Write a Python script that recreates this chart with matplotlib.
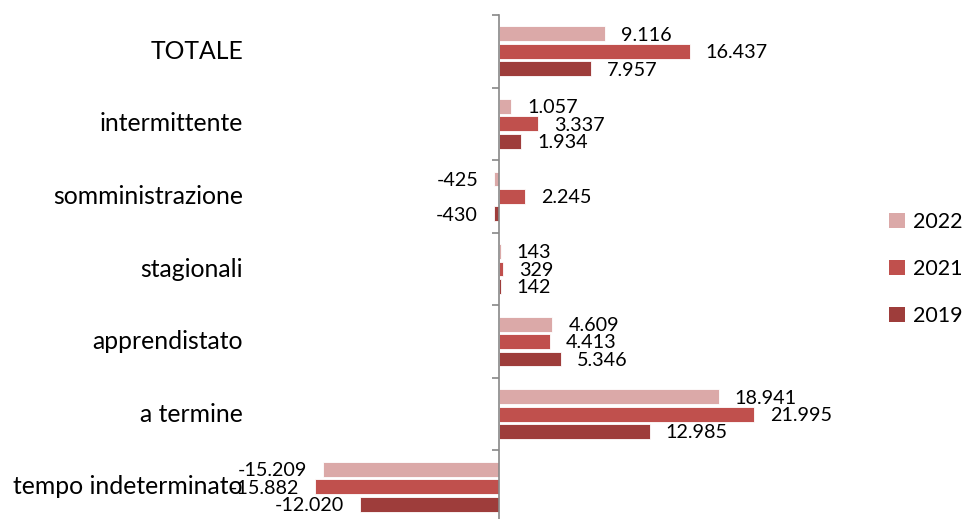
import matplotlib
matplotlib.use("Agg")
import matplotlib.pyplot as plt
import numpy as np
from matplotlib.patches import Patch

plt.rcParams['font.family'] = ['Lato', 'DejaVu Sans']

categories = ["TOTALE", "intermittente", "somministrazione", "stagionali",
              "apprendistato", "a termine", "tempo indeterminato"]
years = ["2022", "2021", "2019"]
v2022 = [9116, 1057, -425, 143, 4609, 18941, -15209]
v2021 = [16437, 3337, 2245, 329, 4413, 21995, -15882]
v2019 = [7957, 1934, -430, 142, 5346, 12985, -12020]
colors = ["#DBA9A8", "#C0504D", "#9E3D3B"]

W, H = 966, 519
fig = plt.figure(figsize=(W / 100, H / 100), dpi=100)

# axes in pixel terms: x 260..860, y 15..523 (bottom runs a bit off the figure)
L, R, T, B = 260, 860, 15, 523
ax = fig.add_axes([L / W, 1 - B / H, (R - L) / W, (B - T) / H])
scale = 255 / 21995  # px per unit
zero_px = 499
ax.set_xlim((L - zero_px) / scale, (R - zero_px) / scale)
ax.set_ylim(len(categories) - 0.5, -0.5)

bar_h = 0.205
off = 0.24
y = np.arange(len(categories))
for k, (vals, col) in enumerate(zip([v2022, v2021, v2019], colors)):
    ys = y + (k - 1) * off
    ax.barh(ys, vals, height=bar_h, color=col, edgecolor="white", linewidth=0.6)
    for yy, v in zip(ys, vals):
        txt = f"{v:,}".replace(",", ".")
        if v >= 0:
            ax.annotate(txt, (v, yy), xytext=(11.5, -1), textcoords="offset points",
                        ha="left", va="center", fontsize=14.2, color="black")
        else:
            ax.annotate(txt, (v, yy), xytext=(-11.5, -1), textcoords="offset points",
                        ha="right", va="center", fontsize=14.2, color="black")

# category labels
trans = matplotlib.transforms.blended_transform_factory(fig.transFigure, ax.transData)
for yy, c in zip(y, categories):
    ax.text(243 / W, yy, c, transform=trans, ha="right", va="center", fontsize=17.8)

for s in ["top", "right", "bottom"]:
    ax.spines[s].set_visible(False)
ax.spines["left"].set_position(("data", 0))
ax.spines["left"].set_color("#888888")
ax.spines["left"].set_linewidth(1.2)
ax.set_xticks([])
ax.set_yticks(np.arange(len(categories) + 1) - 0.5)
ax.set_yticklabels([])
ax.tick_params(axis="y", direction="out", length=5, color="#888888", width=1.2)

handles = [Patch(facecolor=c, label=yr) for c, yr in zip(colors, years)]
fig.legend(handles=handles, loc="center left", bbox_to_anchor=(880 / W, 1 - 269 / H),
           frameon=False, fontsize=15.5, handlelength=0.75, handleheight=0.75,
           handletextpad=0.4, labelspacing=1.25, borderaxespad=0)

fig.savefig("out.png", dpi=100)
